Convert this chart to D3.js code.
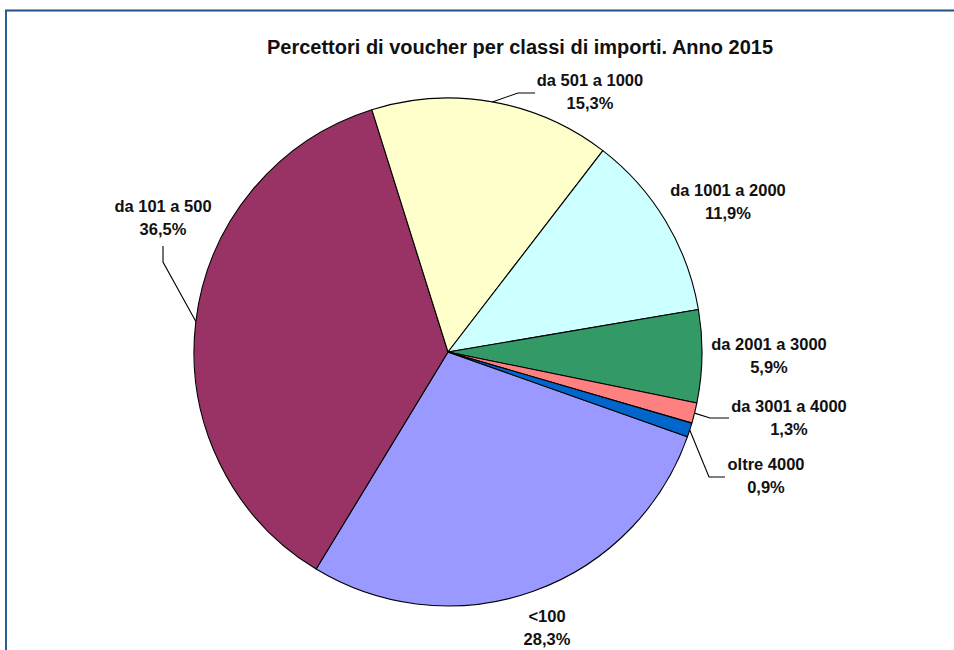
<!DOCTYPE html>
<html><head><meta charset="utf-8">
<script src="https://cdn.jsdelivr.net/npm/d3@7"></script>
<style>
html,body{margin:0;padding:0;background:#fff;}
svg{display:block;}
</style></head>
<body>
<svg id="chart" width="954" height="650"></svg>
<script>
// ---- data ----
const categories = ["<100", "da 101 a 500", "da 501 a 1000", "da 1001 a 2000", "da 2001 a 3000", "da 3001 a 4000", "oltre 4000"];
const values = [28.3, 36.5, 15.3, 11.9, 5.9, 1.3, 0.9];
const valueLabels = ["28,3%", "36,5%", "15,3%", "11,9%", "5,9%", "1,3%", "0,9%"];
const colors = ["#9999FF", "#993366", "#FFFFCC", "#CCFFFF", "#339966", "#FF8080", "#0066CC"];
const title = "Percettori di voucher per classi di importi. Anno 2015";

// ---- layout ----
const W = 954, H = 650;
const cx = 448, cy = 352, R = 254;
const startDeg = 109.5;
// label centres (x, baseline of first line) and leader elbows
const labelLayout = [
  {x: 547, y: 622, leader: null},
  {x: 163, y: 212, leader: {pts: [[163, 262], [163, 246]]}},
  {x: 590, y: 86, leader: {pts: [[518, 93], [535, 93]]}},
  {x: 728, y: 196, leader: null},
  {x: 769, y: 350, leader: null},
  {x: 789, y: 412, leader: {pts: [[710, 418], [729, 418]]}},
  {x: 766, y: 470, leader: {pts: [[709, 477], [725, 477]]}}
];
const lineGap = 23;

const svg = d3.select("#chart");

// frame
svg.append("line").attr("x1", 5).attr("x2", W).attr("y1", 10.5).attr("y2", 10.5)
  .attr("stroke", "#1F4E85").attr("stroke-width", 2);
svg.append("line").attr("x1", 6).attr("x2", 6).attr("y1", 10).attr("y2", H)
  .attr("stroke", "#2A5F95").attr("stroke-width", 2);

// title
svg.append("text").attr("x", 520).attr("y", 54).attr("text-anchor", "middle")
  .attr("font-family", "Liberation Sans, Arial, sans-serif").attr("font-weight", "bold")
  .attr("font-size", 20).attr("fill", "#111").text(title);

const toRad = d => d * Math.PI / 180;
const pie = d3.pie().sort(null).value(d => d)
  .startAngle(toRad(startDeg)).endAngle(toRad(startDeg) + 2 * Math.PI);
const arcs = pie(values);
const arc = d3.arc().innerRadius(0).outerRadius(R);

const g = svg.append("g").attr("transform", `translate(${cx},${cy})`);
g.selectAll("path.slice").data(arcs).enter().append("path")
  .attr("class", "slice")
  .attr("d", arc)
  .attr("fill", (d, i) => colors[i])
  .attr("stroke", "#000").attr("stroke-width", 1.1).attr("stroke-linejoin", "round");

// leaders
arcs.forEach((d, i) => {
  const L = labelLayout[i].leader;
  if (!L) return;
  const a = (d.startAngle + d.endAngle) / 2;
  const p0 = [cx + R * Math.sin(a), cy - R * Math.cos(a)];
  const pts = [p0].concat(L.pts);
  svg.append("path").attr("d", d3.line()(pts))
    .attr("fill", "none").attr("stroke", "#000").attr("stroke-width", 1.1);
});

// labels
arcs.forEach((d, i) => {
  const lp = labelLayout[i];
  const t = svg.append("text").attr("text-anchor", "middle")
    .attr("font-family", "Liberation Sans, Arial, sans-serif").attr("font-weight", "bold")
    .attr("font-size", 16.5).attr("fill", "#111");
  t.append("tspan").attr("x", lp.x).attr("y", lp.y).text(categories[i]);
  t.append("tspan").attr("x", lp.x).attr("y", lp.y + lineGap).text(valueLabels[i]);
});
</script>
</body></html>
